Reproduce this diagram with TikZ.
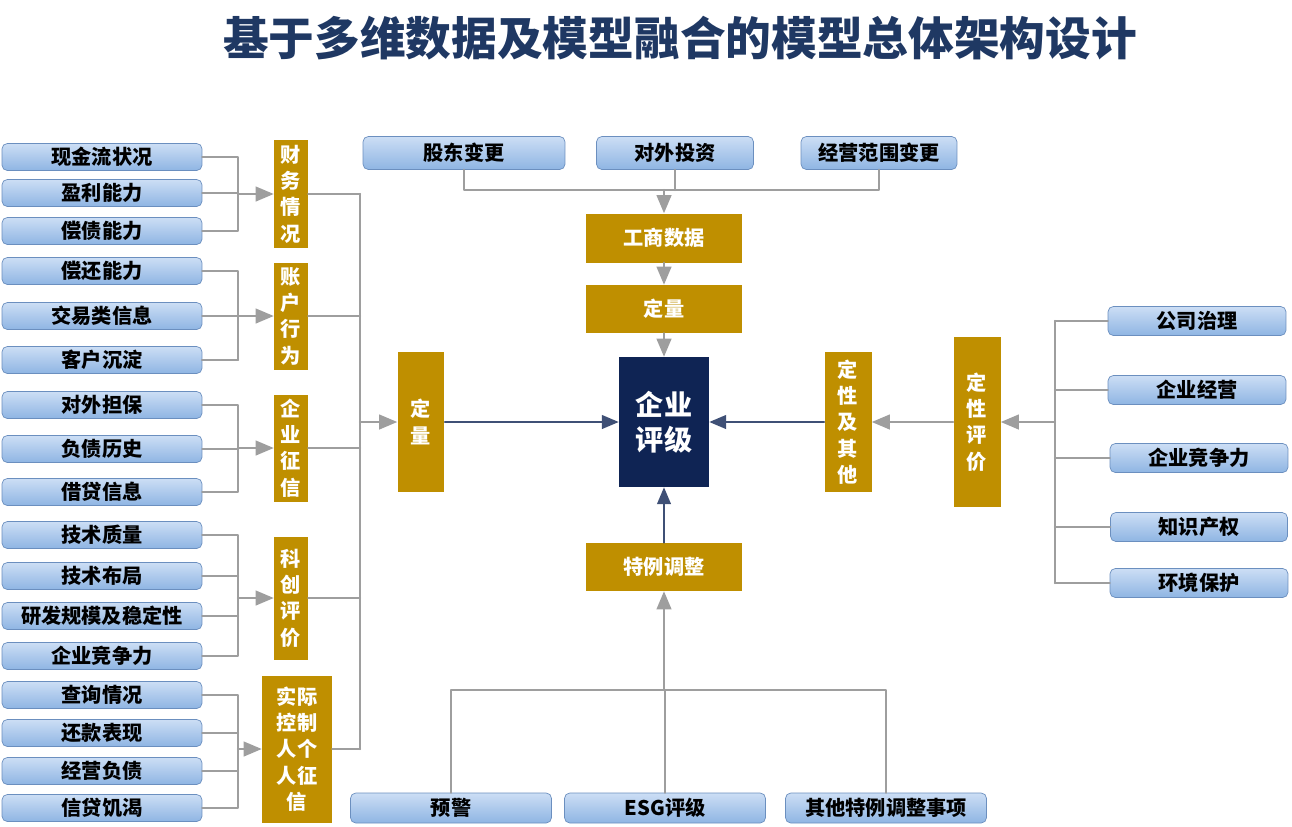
\documentclass[tikz,border=0pt]{standalone}
\usepackage{fontspec}
\setmainfont{Noto Sans CJK SC}
\usetikzlibrary{calc}
\usetikzlibrary{arrows}
\definecolor{gold}{rgb}{0.75,0.56,0.}
\definecolor{navy}{rgb}{0.06,0.14,0.33}
\definecolor{ttl}{rgb}{0.12,0.22,0.39}
\definecolor{bltop}{rgb}{0.80,0.87,0.96}
\definecolor{blbot}{rgb}{0.56,0.71,0.89}
\definecolor{blline}{rgb}{0.42,0.56,0.75}
\definecolor{gline}{rgb}{0.62,0.62,0.62}
\tikzset{
  lbox/.style={draw=blline,rounded corners=3pt,top color=bltop,bottom color=blbot,
    minimum height=0.54cm,inner sep=0pt,font=\fontsize{11.5}{13}\selectfont\bfseries},
  gbox/.style={fill=gold,text=white,inner sep=0pt,align=center,
    font=\fontsize{11.5}{15}\selectfont\bfseries},
  gl/.style={draw=gline,line width=1.4pt},
  dl/.style={draw=navy!80,line width=1.2pt}
}
\begin{document}
\begin{tikzpicture}[line cap=round,line join=round,>=triangle 45,x=0.02cm,y=-0.02cm]
\useasboundingbox (0,0) rectangle (1292,826);
\node[text=ttl,font=\fontsize{26}{30}\selectfont\bfseries] (title) at (680,38) {基于多维数据及模型融合的模型总体架构设计};
% left rows
\foreach \n/\y/\t in {r1/157/现金流状况,r2/193/盈利能力,r3/231/偿债能力,r4/271/偿还能力,r5/316/交易类信息,r6/360/客户沉淀,r7/405/对外担保,r8/449/负债历史,r9/492/借贷信息,r10/535/技术质量,r11/576/技术布局,r12/616/研发规模及稳定性,r13/656/企业竞争力,r14/695/查询情况,r15/733/还款表现,r16/771/经营负债,r17/808/信贷饥渴}
  \node[lbox,minimum width=4cm] (\n) at (102,\y) {\t};
% gold boxes left
\node[gbox,minimum width=0.68cm,minimum height=2.16cm] (cw) at (291,194) {财\\务\\情\\况};
\node[gbox,minimum width=0.68cm,minimum height=2.14cm] (zh) at (291,316) {账\\户\\行\\为};
\node[gbox,minimum width=0.68cm,minimum height=2.14cm] (zx) at (291,448) {企\\业\\征\\信};
\node[gbox,minimum width=0.68cm,minimum height=2.46cm] (kc) at (291,598) {科\\创\\评\\价};
\node[gbox,minimum width=1.4cm,minimum height=2.94cm] (sj) at (297,749) {实际\\控制\\人个\\人征\\信};
\node[gbox,minimum width=0.94cm,minimum height=2.8cm] (dl) at (421,422) {定\\量};
\node[fill=navy,text=white,align=center,minimum width=1.8cm,minimum height=2.6cm,
  font=\fontsize{16}{20}\selectfont\bfseries] (pj) at (664,422) {企业\\评级};
\coordinate (lx) at (238,0);
\coordinate (mx) at (360,0);
\foreach \a/\b/\g in {r1/r3/cw,r4/r6/zh,r7/r9/zx,r10/r13/kc,r14/r17/sj}{
  \draw[gl] (\a.east) -- (lx |- \a.east) -- (lx |- \b.east) -- (\b.east);
  \draw[gl,->] (lx |- \g.west) -- (\g.west);
}
\foreach \r in {r2,r5,r6,r8,r11,r12,r15,r16}
  \draw[gl] (\r.east) -- (lx |- \r.east);
\foreach \g in {cw,zh,zx,kc,sj}
  \draw[gl] (\g.east) -- (mx |- \g.east);
\draw[gl] (mx |- cw.east) -- (mx |- sj.east);
\draw[gl,->] (mx |- dl.west) -- (dl.west);
\draw[dl,->] (dl.east) -- (pj.west);
% top
\node[lbox,minimum width=4.04cm,minimum height=0.66cm] (gd) at (464,153) {股东变更};
\node[lbox,minimum width=3.14cm,minimum height=0.66cm] (tz) at (675,153) {对外投资};
\node[lbox,minimum width=3.12cm,minimum height=0.66cm] (jy) at (879,153) {经营范围变更};
\node[gbox,minimum width=3.12cm,minimum height=0.98cm] (gs) at (664,238) {工商数据};
\node[gbox,minimum width=3.12cm,minimum height=0.96cm] (dl2) at (664,309) {定量};
\coordinate (ty) at (0,190);
\draw[gl] (gd.south) -- (gd.south |- ty) -- (jy.south |- ty) -- (jy.south);
\draw[gl] (tz.south) -- (tz.south |- ty);
\draw[gl,->] (gs.north |- ty) -- (gs.north);
\draw[gl,->] (gs.south) -- (dl2.north);
\draw[gl,->] (dl2.south) -- (pj.north);
% right
\node[gbox,minimum width=0.94cm,minimum height=2.8cm] (dx) at (848,422) {定\\性\\及\\其\\他};
\node[gbox,minimum width=0.94cm,minimum height=3.4cm] (dp) at (977,422) {定\\性\\评\\价};
\node[lbox,minimum width=3.56cm,minimum height=0.58cm] (q1) at (1197,321) {公司治理};
\node[lbox,minimum width=3.56cm,minimum height=0.58cm] (q2) at (1197,390) {企业经营};
\node[lbox,minimum width=3.56cm,minimum height=0.58cm] (q3) at (1199,458) {企业竞争力};
\node[lbox,minimum width=3.54cm,minimum height=0.58cm] (q4) at (1199,527) {知识产权};
\node[lbox,minimum width=3.56cm,minimum height=0.58cm] (q5) at (1199,583) {环境保护};
\coordinate (rx) at (1055,0);
\draw[gl] (rx |- q1.west) -- (rx |- q5.west);
\foreach \q in {q1,q2,q3,q4,q5}
  \draw[gl] (rx |- \q.west) -- (\q.west);
\draw[gl,->] (rx |- dp.east) -- (dp.east);
\draw[gl,->] (dp.west) -- (dx.east);
\draw[dl,->] (dx.west) -- (pj.east);
% bottom
\node[lbox,minimum width=4.02cm,minimum height=0.6cm] (yj) at (451,808) {预警};
\node[lbox,minimum width=4.02cm,minimum height=0.6cm] (esg) at (665,808) {ESG评级};
\node[lbox,minimum width=4.02cm,minimum height=0.6cm] (qt) at (886,808) {其他特例调整事项};
\node[gbox,minimum width=3.12cm,minimum height=0.96cm] (tl) at (664,567) {特例调整};
\coordinate (by) at (0,690);
\draw[gl] (yj.north) -- (yj.north |- by) -- (qt.north |- by) -- (qt.north);
\draw[gl] (esg.north) -- (esg.north |- by);
\draw[gl,->] (tl.south |- by) -- (tl.south);
\draw[dl,->] (tl.north) -- (pj.south);
\end{tikzpicture}
\end{document}
